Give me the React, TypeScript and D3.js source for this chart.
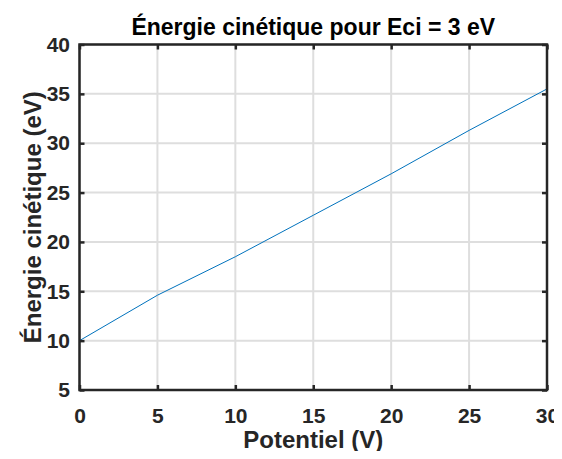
import { useEffect, useRef } from "react";
import * as d3 from "d3";

const potentials = [0, 5, 10, 15, 20, 25, 30];
const energies = [10, 14.6, 18.5, 22.7, 26.9, 31.3, 35.5];
const xTicks = [0, 5, 10, 15, 20, 25, 30];
const yTicks = [5, 10, 15, 20, 25, 30, 35, 40];

const font = "'Liberation Sans', Arial, sans-serif";

export default function App() {
  const svgRef = useRef<SVGSVGElement>(null);

  useEffect(() => {
    const W = 562, H = 459;
    const margin = { top: 44.5, right: 15, bottom: 69, left: 79.5 };
    const width = W - margin.left - margin.right;
    const height = H - margin.top - margin.bottom;

    const root = d3.select(svgRef.current).html(null);
    root.append("rect").attr("width", W).attr("height", H).attr("fill", "#fff");

    const svg = root.append("g").attr("transform", `translate(${margin.left},${margin.top})`);

    const x = d3.scaleLinear().domain([0, 30]).range([0, width]);
    const y = d3.scaleLinear().domain([5, 40]).range([height, 0]);

    // grid
    svg.append("g")
      .selectAll("line")
      .data(xTicks)
      .join("line")
      .attr("x1", d => x(d)).attr("x2", d => x(d))
      .attr("y1", 0).attr("y2", height)
      .attr("stroke", "#dedede").attr("stroke-width", 2);
    svg.append("g")
      .selectAll("line")
      .data(yTicks)
      .join("line")
      .attr("y1", d => y(d)).attr("y2", d => y(d))
      .attr("x1", 0).attr("x2", width)
      .attr("stroke", "#dedede").attr("stroke-width", 2);

    const line = d3.line<number>()
      .x((_, i) => x(potentials[i]))
      .y(d => y(d));

    svg.append("path")
      .datum(energies)
      .attr("fill", "none")
      .attr("stroke", "#0072bd")
      .attr("stroke-width", 1)
      .attr("d", line);

    // box
    svg.append("rect")
      .attr("width", width).attr("height", height)
      .attr("fill", "none").attr("stroke", "#262626").attr("stroke-width", 2.5);

    const styleAxis = (g: d3.Selection<SVGGElement, unknown, null, undefined>) => {
      g.select(".domain").remove();
      g.selectAll(".tick line").attr("stroke", "#262626").attr("stroke-width", 2.5);
      g.selectAll(".tick text")
        .attr("fill", "#262626")
        .style("font-family", font)
        .style("font-size", "21px")
        .style("font-weight", "bold");
    };

    svg.append("g")
      .attr("transform", `translate(0,${height})`)
      .call(d3.axisBottom(x).tickValues(xTicks).tickSize(-5).tickPadding(18))
      .call(styleAxis);
    svg.append("g")
      .call(d3.axisTop(x).tickValues(xTicks).tickSize(-5).tickFormat(() => ""))
      .call(styleAxis);
    svg.append("g")
      .call(d3.axisLeft(y).tickValues(yTicks).tickSize(-5).tickPadding(9.5))
      .call(styleAxis);
    svg.append("g")
      .attr("transform", `translate(${width},0)`)
      .call(d3.axisRight(y).tickValues(yTicks).tickSize(-5).tickFormat(() => ""))
      .call(styleAxis);

    const label = (sel: d3.Selection<SVGTextElement, unknown, null, undefined>, size: number) =>
      sel.attr("text-anchor", "middle")
        .attr("fill", "#262626")
        .style("font-family", font)
        .style("font-size", `${size}px`)
        .style("font-weight", "bold");

    root.append("text")
      .attr("x", margin.left + width / 2)
      .attr("y", 35)
      .call(label, 23)
      .attr("fill", "#000")
      .text("Énergie cinétique pour Eci = 3 eV");

    root.append("text")
      .attr("x", margin.left + width / 2)
      .attr("y", 448)
      .call(label, 24)
      .text("Potentiel (V)");

    root.append("text")
      .attr("transform", `translate(41,${margin.top + height / 2}) rotate(-90)`)
      .call(label, 24)
      .text("Énergie cinétique (eV)");
  }, []);

  return <svg ref={svgRef} width={562} height={459} style={{ display: "block", margin: -8 }} />;
}
